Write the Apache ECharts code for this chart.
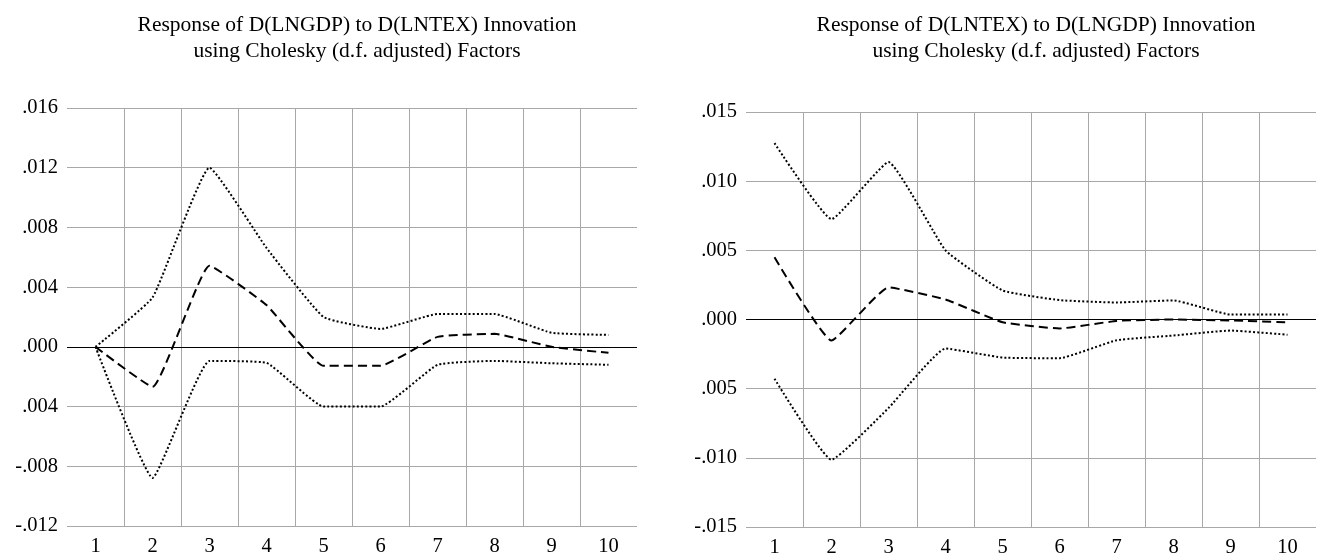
<!DOCTYPE html>
<html>
<head>
<meta charset="utf-8">
<script src="https://cdn.jsdelivr.net/npm/echarts@6/dist/echarts.min.js"></script>
<style>
  html, body { margin: 0; padding: 0; background: #fff; }
  #chart { width: 1317px; height: 554px; }
</style>
</head>
<body>
<div id="chart"></div>
<script>
// Impulse-response horizons
const periods = ['1', '2', '3', '4', '5', '6', '7', '8', '9', '10'];

// Response of D(LNGDP) to a D(LNTEX) shock: point estimate and +/- 2 S.E. bands
const gdpResponse = [0.0000, -0.00268, 0.00543, 0.0028, -0.00127, -0.00127, 0.00067, 0.00087, 0.0000, -0.0004];
const gdpUpper    = [0.0000, 0.0033, 0.0120, 0.00663, 0.0020, 0.0012, 0.0022, 0.0022, 0.00094, 0.0008];
const gdpLower    = [0.0000, -0.00878, -0.00094, -0.00107, -0.0040, -0.0040, -0.0012, -0.00094, -0.0011, -0.0012];

// Response of D(LNTEX) to a D(LNGDP) shock: point estimate and +/- 2 S.E. bands
const texResponse = [0.0045, -0.00152, 0.00232, 0.00145, -0.0002, -0.00065, -0.0001, 0.0000, -0.00007, -0.0002];
const texUpper    = [0.01275, 0.00725, 0.01138, 0.0050, 0.0021, 0.0014, 0.00123, 0.00138, 0.00036, 0.00036];
const texLower    = [-0.00428, -0.01014, -0.0064, -0.0021, -0.00275, -0.0028, -0.0015, -0.00116, -0.0008, -0.0011];

// Value-axis tick labels, bottom to top
const gdpTickLabels = ['-.012', '-.008', '.004', '.000', '.004', '.008', '.012', '.016'];
const texTickLabels = ['-.015', '-.010', '.005', '.000', '.005', '.010', '.015'];

const titles = [
  'Response of D(LNGDP) to D(LNTEX) Innovation\nusing Cholesky (d.f. adjusted) Factors',
  'Response of D(LNTEX) to D(LNGDP) Innovation\nusing Cholesky (d.f. adjusted) Factors'
];

const FONT = 'Liberation Serif, Times New Roman, serif';
const GRID_GRAY = '#a8a8a8';

function tickFormatter(labels, min, step) {
  return function (v) {
    const i = Math.round((v - min) / step);
    return labels[i] !== undefined ? labels[i] : '';
  };
}

function xAxisFor(gridIndex) {
  return {
    type: 'category',
    gridIndex: gridIndex,
    data: periods,
    boundaryGap: true,
    axisLine: { show: false },
    axisTick: { show: false },
    axisLabel: { color: '#000', fontFamily: FONT, fontSize: 20.5, margin: 10 },
    splitLine: {
      show: true,
      showMinLine: false,
      showMaxLine: false,
      lineStyle: { color: GRID_GRAY, width: 1 }
    }
  };
}

function yAxisFor(gridIndex, min, max, step, labels) {
  return {
    type: 'value',
    gridIndex: gridIndex,
    min: min,
    max: max,
    interval: step,
    axisLine: { show: false },
    axisTick: { show: false },
    axisLabel: {
      color: '#000', fontFamily: FONT, fontSize: 20.5, margin: 9,
      formatter: tickFormatter(labels, min, step)
    },
    splitLine: { show: true, lineStyle: { color: GRID_GRAY, width: 1 } }
  };
}

function lineSeries(idx, data, kind, withZero) {
  const s = {
    type: 'line',
    xAxisIndex: idx,
    yAxisIndex: idx,
    data: data,
    symbol: 'none',
    smooth: 0.12,
    silent: true,
    z: 3,
    lineStyle: kind === 'dash'
      ? { color: '#000', width: 2, type: [9, 5] }
      : { color: '#000', width: 2, type: [2, 2.2] }
  };
  if (withZero) {
    s.markLine = {
      silent: true,
      symbol: 'none',
      label: { show: false },
      lineStyle: { color: '#000', width: 1, type: 'solid' },
      data: [{ yAxis: 0 }],
      z: 2
    };
  }
  return s;
}

const chart = echarts.init(document.getElementById('chart'), null, { renderer: 'canvas' });

const titleStyle = { fontFamily: FONT, fontSize: 21.5, fontWeight: 'normal', color: '#000', lineHeight: 26 };

chart.setOption({
  backgroundColor: '#fff',
  animation: false,
  title: [
    { text: titles[0], left: 352, top: 7, textAlign: 'center', textStyle: titleStyle },
    { text: titles[1], left: 1031, top: 7, textAlign: 'center', textStyle: titleStyle }
  ],
  grid: [
    { left: 67, width: 570, top: 108, height: 418, outerBoundsMode: 'none', containLabel: false },
    { left: 746, width: 570, top: 112, height: 415, outerBoundsMode: 'none', containLabel: false }
  ],
  xAxis: [xAxisFor(0), xAxisFor(1)],
  yAxis: [
    yAxisFor(0, -0.012, 0.016, 0.004, gdpTickLabels),
    yAxisFor(1, -0.015, 0.015, 0.005, texTickLabels)
  ],
  series: [
    lineSeries(0, gdpResponse, 'dash', true),
    lineSeries(0, gdpUpper, 'dot', false),
    lineSeries(0, gdpLower, 'dot', false),
    lineSeries(1, texResponse, 'dash', true),
    lineSeries(1, texUpper, 'dot', false),
    lineSeries(1, texLower, 'dot', false)
  ]
});
</script>
</body>
</html>
